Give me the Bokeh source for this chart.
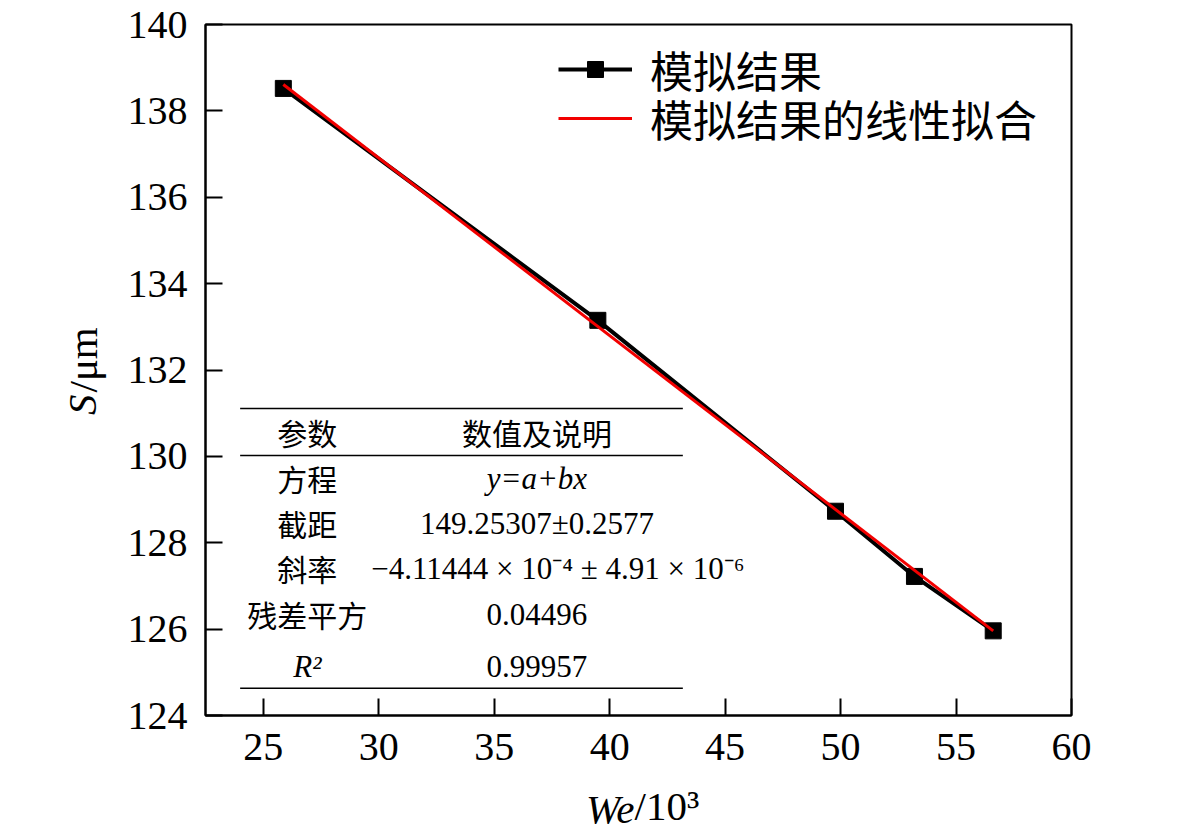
from bokeh.plotting import figure
from bokeh.models import Legend, LegendItem, Label, FixedTicker, Range1d
from bokeh.core.properties import value
from bokeh.embed import file_html
from bokeh.resources import INLINE

# simulation results, We/10^3 vs S/um
we = [25.87, 39.49, 49.78, 53.20, 56.61]
s_um = [138.52, 133.15, 128.73, 127.22, 125.96]

# linear fit of the results (end points)
fit_we = [25.87, 56.61]
fit_s = [138.61, 125.96]

x_ticks = [25, 30, 35, 40, 45, 50, 55, 60]
y_ticks = [124, 126, 128, 130, 132, 134, 136, 138, 140]

legend_names = ["模拟结果", "模拟结果的线性拟合"]

# fit parameter table
table_header = ["参数", "数值及说明"]
table_params = ["方程", "截距", "斜率", "残差平方"]
table_values = ["149.25307±0.2577", "−4.11444 × 10⁻⁴ ± 4.91 × 10⁻⁶", "0.04496"]
equation = "y=a+bx"
r2_value = "0.99957"

SERIF = "Liberation Serif"
CJK = "Noto Sans CJK SC"

p = figure(width=1173, height=832, x_range=Range1d(22.5, 60), y_range=Range1d(124, 140),
           output_backend="svg", toolbar_location=None,
           min_border_left=205, min_border_right=102, min_border_top=24, min_border_bottom=117)
p.grid.visible = False
p.outline_line_color = "black"
p.outline_line_width = 2
p.background_fill_color = "white"

for ax in (p.xaxis[0], p.yaxis[0]):
    ax.axis_line_width = 2
    ax.major_tick_line_width = 2
    ax.major_tick_in = 17
    ax.major_tick_out = 0
    ax.minor_tick_line_color = None
    ax.major_label_text_font = SERIF
    ax.major_label_text_font_size = "40px"
    ax.major_label_text_color = "black"
    ax.axis_label = None
p.xaxis.ticker = FixedTicker(ticks=x_ticks)
p.yaxis.ticker = FixedTicker(ticks=y_ticks)
p.xaxis.major_label_standoff = 18
p.yaxis.major_label_standoff = 18

# data
black_line = p.line(we, s_um, line_color="black", line_width=4)
squares = p.scatter(we, s_um, marker="square", size=16, fill_color="black", line_color="black")
red_line = p.line(fit_we, fit_s, line_color="#f20000", line_width=3)

# one legend per row so the row pitch can follow the reference
legend_style = dict(glyph_width=74, glyph_height=40, label_height=40, padding=0, margin=0,
                    label_standoff=18, border_line_color=None, background_fill_alpha=0,
                    label_text_font=CJK, label_text_font_size="43px", label_text_color="black")
p.add_layout(Legend(items=[LegendItem(label=legend_names[0], renderers=[black_line, squares])],
                    location=(353, 615), **legend_style))
p.add_layout(Legend(items=[LegendItem(label=legend_names[1], renderers=[red_line])],
                    location=(353, 566), **legend_style))

# table rules
p.segment(x0=[24.0] * 3, x1=[43.17] * 3, y0=[131.11, 130.02, 124.63], y1=[131.11, 130.02, 124.63],
          line_color="black", line_width=1.5)

col1, col2 = 26.91, 36.85
p.text(x=[col1, col2], y=[130.56, 130.56], text=table_header, text_align="center",
       text_baseline="middle", text_font=value(CJK), text_font_size="30px", text_color="black")
p.text(x=[col1] * 4, y=[129.49, 128.45, 127.41, 126.34], text=table_params, text_align="center",
       text_baseline="middle", text_font=value(CJK), text_font_size="30px", text_color="black")
p.text(x=[col2, 37.76, col2], y=[128.45, 127.41, 126.34], text=table_values, text_align="center",
       text_baseline="middle", text_font=value(SERIF), text_font_size="31px", text_color="black")
p.text(x=[col2, col1], y=[129.49, 125.14], text=[equation, "R²"], text_align="center",
       text_baseline="middle", text_font=value(SERIF), text_font_style="italic",
       text_font_size="31px", text_color="black")
p.text(x=[col2], y=[125.14], text=[r2_value], text_align="center",
       text_baseline="middle", text_font=value(SERIF), text_font_size="31px", text_color="black")

# axis titles with mixed italic / upright parts, placed in the side panels
title_style = dict(x_units="screen", y_units="screen", text_font=SERIF, text_font_size="41px",
                   text_color="black")
p.add_layout(Label(x=429, y=0, text="We", text_align="right", text_baseline="alphabetic",
                   text_font_style="italic", **title_style), "below")
p.add_layout(Label(x=-437, y=-90, text="/10³", text_align="left", text_baseline="alphabetic",
                   **title_style), "right")
p.add_layout(Label(x=26, y=321, text="S", text_align="right", angle=90, angle_units="deg",
                   text_font_style="italic", **title_style), "left")
p.add_layout(Label(x=73, y=323, text="/μm", text_align="left", angle=90, angle_units="deg",
                   **title_style), "left")

open("out.html", "w").write(file_html(p, INLINE))
